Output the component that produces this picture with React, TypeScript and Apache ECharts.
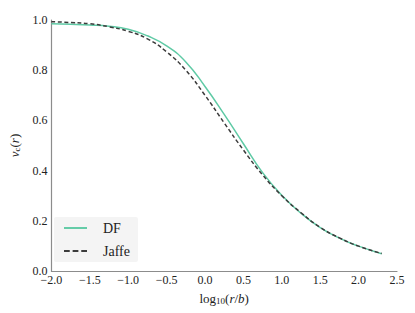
import React, { useEffect, useRef } from "react";
import * as echarts from "echarts";

const logR: number[] = [-2.0, -1.75, -1.5, -1.25, -1.0, -0.75, -0.5, -0.25, 0.0, 0.25, 0.5, 0.75, 1.0, 1.25, 1.5, 1.75, 2.0, 2.3];
const dfValues: number[] = [0.985, 0.983, 0.98, 0.975, 0.963, 0.937, 0.897, 0.833, 0.735, 0.624, 0.507, 0.392, 0.302, 0.23, 0.173, 0.131, 0.099, 0.069];
const jaffeValues: number[] = [0.993, 0.99, 0.985, 0.973, 0.955, 0.925, 0.873, 0.8, 0.7, 0.59, 0.482, 0.383, 0.3, 0.232, 0.174, 0.132, 0.099, 0.07];
const seriesNames: string[] = ["DF", "Jaffe"];

const SERIF = "Liberation Serif";

const fmt = (v: number) => v.toFixed(1).replace("-", "\u2212");

export default function App() {
  const ref = useRef<HTMLDivElement>(null);
  useEffect(() => {
    if (!ref.current) return;
    const chart = echarts.init(ref.current, undefined, { renderer: "svg" });
    chart.setOption({
      animation: false,
      backgroundColor: "#ffffff",
      grid: { left: 47, right: 18, top: 20, bottom: 42 },
      legend: {
        orient: "vertical",
        left: 54,
        top: 217,
        padding: [4, 8, 4, 10],
        itemWidth: 23,
        itemHeight: 2,
        itemGap: 9,
        backgroundColor: "#f4f4f4",
        borderRadius: 2,
        data: [
          { name: seriesNames[0], icon: "path://M0,0H24V2H0Z" },
          { name: seriesNames[1], icon: "path://M0,0H6V2H0Z M9,0H15V2H9Z M18,0H24V2H18Z" },
        ],
        textStyle: { fontFamily: SERIF, fontSize: 14, lineHeight: 14, color: "#222", padding: [0, 0, 0, 11] },
      },
      xAxis: {
        type: "value",
        min: -2,
        max: 2.5,
        interval: 0.5,
        axisLine: { onZero: false, lineStyle: { color: "#8c8c8c", width: 1.2 } },
        axisTick: { show: false },
        splitLine: { show: false },
        axisLabel: { fontFamily: SERIF, fontSize: 12, color: "#222", margin: 3, formatter: fmt },
        name: "log{s|10}({i|r}/{i|b})",
        nameLocation: "middle",
        nameGap: 20,
        nameTextStyle: {
          fontFamily: SERIF,
          fontSize: 13,
          color: "#222",
          rich: {
            s: { fontFamily: SERIF, fontSize: 9, color: "#222", verticalAlign: "bottom", padding: [5, 0, 0, 0] },
            i: { fontFamily: SERIF, fontSize: 13, fontStyle: "italic", color: "#222" },
          },
        },
      },
      yAxis: {
        type: "value",
        min: 0,
        max: 1,
        interval: 0.2,
        axisLine: { show: true, onZero: false, lineStyle: { color: "#8c8c8c", width: 1.2 } },
        axisTick: { show: false },
        splitLine: { show: false },
        axisLabel: { fontFamily: SERIF, fontSize: 12, color: "#222", margin: 4, formatter: fmt },
        name: "{i|v}{s|c}({i|r})",
        nameLocation: "middle",
        nameGap: 27,
        nameTextStyle: {
          fontFamily: SERIF,
          fontSize: 13,
          color: "#222",
          rich: {
            s: { fontFamily: SERIF, fontSize: 9, color: "#222", verticalAlign: "bottom", padding: [5, 0, 0, 0] },
            i: { fontFamily: SERIF, fontSize: 13, fontStyle: "italic", color: "#222" },
          },
        },
      },
      series: [
        {
          name: seriesNames[0],
          type: "line",
          smooth: true,
          showSymbol: false,
          symbol: "none",
          data: logR.map((x, i) => [x, dfValues[i]]),
          lineStyle: { color: "#5fcaa5", width: 1.5 },
          itemStyle: { color: "#5fcaa5" },
          z: 2,
        },
        {
          name: seriesNames[1],
          type: "line",
          smooth: true,
          showSymbol: false,
          symbol: "none",
          data: logR.map((x, i) => [x, jaffeValues[i]]),
          lineStyle: { color: "#3c3c3c", width: 1.5, type: [4, 2.5] },
          itemStyle: { color: "#3c3c3c" },
          z: 3,
        },
      ],
    });
    return () => chart.dispose();
  }, []);
  return <div ref={ref} style={{ width: 415, height: 313, position: "absolute", left: 0, top: 0 }} />;
}
